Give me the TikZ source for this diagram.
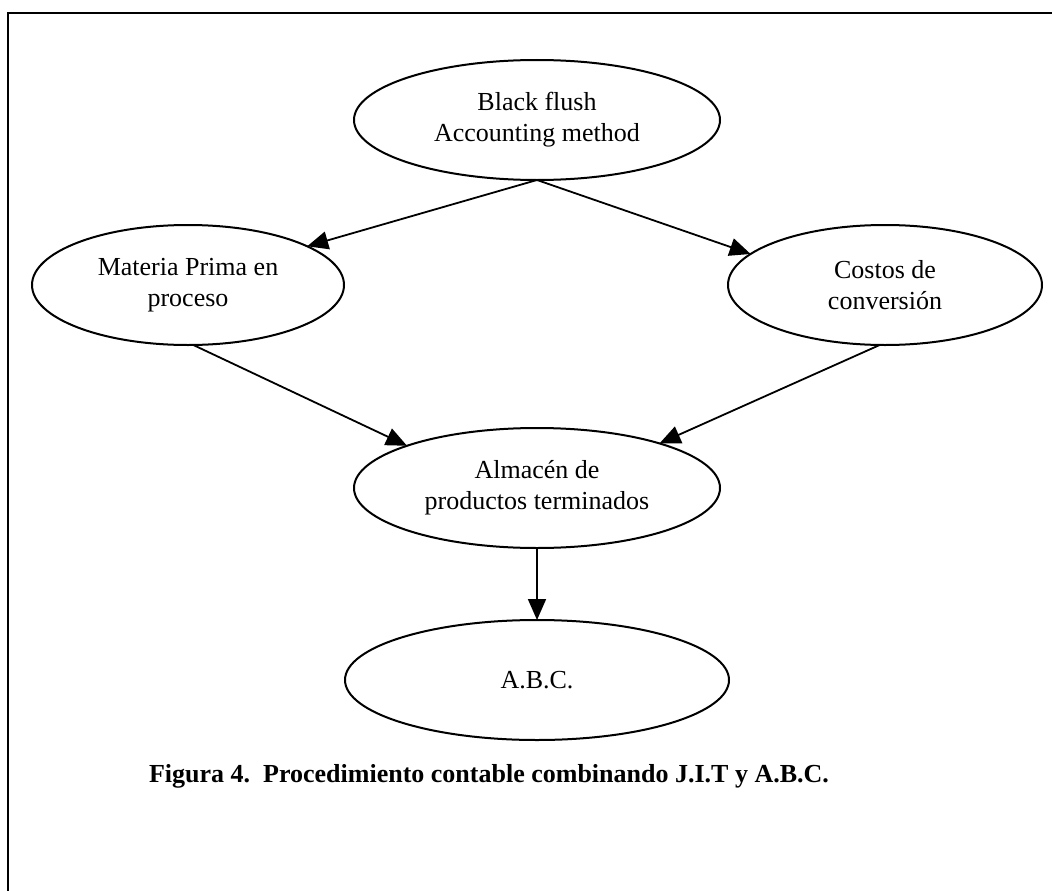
\documentclass[tikz,border=0pt]{standalone}
\usepackage{fontspec}
\setmainfont{Liberation Serif}
\usetikzlibrary{shapes.geometric,arrows.meta}
\begin{document}
\begin{tikzpicture}[x=1pt,y=-1pt,
  oval/.style={draw=black, line width=2pt, ellipse, inner sep=0pt, outer sep=0pt, align=center,
    font=\fontsize{26}{31}\selectfont},
  conn/.style={line width=1.8pt, -{Triangle[length=21pt,width=18pt]}},
  frame/.style={line width=2.5pt}]
\useasboundingbox (0,0) rectangle (1052,891);
\draw[frame] (1052,13) -- (8,13) -- (8,891);
\node[oval, minimum width=366pt, minimum height=120pt] (top) at (537,120) {Black flush\\Accounting method};
\node[oval, minimum width=312pt, minimum height=120pt] (mat) at (188,285) {Materia Prima en\\proceso};
\node[oval, minimum width=314pt, minimum height=120pt] (cos) at (885,285) {Costos de\\conversión};
\node[oval, minimum width=366pt, minimum height=120pt] (alm) at (537,488) {Almacén de\\productos terminados};
\node[oval, minimum width=384pt, minimum height=120pt] (abc) at (537,680) {A.B.C.};
\draw[conn] (top.south) -- (mat.18);
\draw[conn] (top.south) -- (cos.167);
\draw[conn] (mat.-85) -- (alm.162);
\draw[conn] (cos.-95) -- (alm.20);
\draw[conn] (alm.south) -- (abc.north);
\node[font=\fontsize{26}{31}\selectfont\bfseries] (cap) at (489,776) {Figura 4.\ \ Procedimiento contable combinando J.I.T y A.B.C.};
\end{tikzpicture}
\end{document}
